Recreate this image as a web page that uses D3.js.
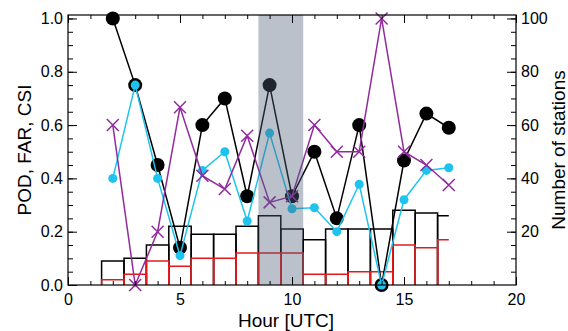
<!DOCTYPE html>
<html>
  <head>
    <meta charset="utf-8">
    <script src="https://d3js.org/d3.v7.min.js"></script>
    <style>
      body { margin: 0px; background: #fff; }
      text { font-family: 'Liberation Sans', Arial, sans-serif; fill: #000; }
      .tick text { font-size: 16px; }
      .tick line { stroke: #000; stroke-width: 1; }
      .domain { display: none; }
      .axis-label { font-size: 19px; }
    </style>
  </head>
  <body>
    <svg width="568" height="331"></svg>
    <script>
      // hours with data
      const hours = [2, 3, 4, 5, 6, 7, 8, 9, 10, 11, 12, 13, 14, 15, 16, 17];
      // line series (left axis)
      const blackSeries  = [1.0, 0.75, 0.45, 0.14, 0.60, 0.70, 0.333, 0.75, 0.333, 0.50, 0.25, 0.60, 0.0, 0.467, 0.643, 0.59];
      const cyanSeries   = [0.40, 0.75, 0.40, 0.11, 0.43, 0.50, 0.24, 0.57, 0.286, 0.29, 0.20, 0.378, 0.0, 0.32, 0.43, 0.44];
      const purpleSeries = [0.60, 0.0, 0.20, 0.667, 0.41, 0.36, 0.56, 0.31, 0.333, 0.60, 0.50, 0.50, 1.0, 0.50, 0.45, 0.375];
      // histograms (right axis, number of stations)
      const stationsAll = [9, 10, 15, 22, 19, 19, 22, 26, 21, 17, 21, 21, 21, 28, 27, 26];
      const stationsRed = [2, 4, 9, 7, 10, 10, 12, 12, 12, 4, 4, 5, 5, 15, 14, 17];
      // shaded period
      const shadeRange = [8.5, 10.5];
      const xTicks = [0, 5, 10, 15, 20];
      const leftTicks = [0, 0.2, 0.4, 0.6, 0.8, 1.0];
      const rightTicks = [20, 40, 60, 80, 100];

      const xLabel = 'Hour [UTC]';
      const yLabel = 'POD, FAR, CSI';
      const y2Label = 'Number of stations';

      const plotL = 68, plotR = 516, plotT = 15, plotB = 285;
      const svg = d3.select('svg');

      const xScale = d3.scaleLinear().domain([0, 20]).range([plotL, plotR]);
      const yScale = d3.scaleLinear().domain([0, 1.013]).range([plotB, plotT]);
      const y2Scale = d3.scaleLinear().domain([0, 101.3]).range([plotB, plotT]);

      // histogram outlines
      const barPath = (v, i, n) => {
        const h = hours[i];
        const x0 = xScale(h - 0.5), yt = y2Scale(v), y0 = y2Scale(0);
        if (i === n - 1) return `M${x0},${y0}V${yt}H${xScale(h)}`;
        return `M${x0},${y0}V${yt}H${xScale(h + 0.5)}V${y0}`;
      };
      const drawBars = (vals, color) => {
        svg.append('g').selectAll('path').data(vals)
          .enter().append('path')
            .attr('d', (d, i) => barPath(d, i, vals.length))
            .attr('fill', 'none')
            .attr('stroke', color)
            .attr('stroke-width', 1.5);
      };
      drawBars(stationsAll, '#000');
      drawBars(stationsRed, '#e31a1c');

      const line = d3.line()
        .x((d, i) => xScale(hours[i]))
        .y(d => yScale(d));

      // black series
      svg.append('path').datum(blackSeries)
        .attr('d', line).attr('fill', 'none')
        .attr('stroke', '#000').attr('stroke-width', 1.5);
      svg.append('g').selectAll('circle').data(blackSeries)
        .enter().append('circle')
          .attr('cx', (d, i) => xScale(hours[i]))
          .attr('cy', d => yScale(d))
          .attr('r', 7)
          .attr('fill', '#000');

      // cyan series
      svg.append('path').datum(cyanSeries)
        .attr('d', line).attr('fill', 'none')
        .attr('stroke', '#1ec4ef').attr('stroke-width', 1.5);
      svg.append('g').selectAll('circle').data(cyanSeries)
        .enter().append('circle')
          .attr('cx', (d, i) => xScale(hours[i]))
          .attr('cy', d => yScale(d))
          .attr('r', 4.5)
          .attr('fill', '#1ec4ef');

      // purple series with X markers
      svg.append('path').datum(purpleSeries)
        .attr('d', line).attr('fill', 'none')
        .attr('stroke', '#922b9e').attr('stroke-width', 1.5);
      const s = 6;
      svg.append('g').selectAll('path').data(purpleSeries)
        .enter().append('path')
          .attr('d', (d, i) => {
            const cx = xScale(hours[i]), cy = yScale(d);
            return `M${cx - s},${cy - s}L${cx + s},${cy + s}M${cx - s},${cy + s}L${cx + s},${cy - s}`;
          })
          .attr('stroke', '#922b9e').attr('stroke-width', 1.5).attr('fill', 'none');

      // shaded band on top
      svg.append('rect')
        .attr('x', xScale(shadeRange[0]))
        .attr('y', plotT)
        .attr('width', xScale(shadeRange[1]) - xScale(shadeRange[0]))
        .attr('height', plotB - plotT)
        .attr('fill', 'rgb(77,95,121)')
        .attr('fill-opacity', 0.39);

      // frame
      svg.append('rect')
        .attr('x', plotL).attr('y', plotT)
        .attr('width', plotR - plotL).attr('height', plotB - plotT)
        .attr('fill', 'none').attr('stroke', '#000').attr('stroke-width', 1.2);

      // axes, ticks point inward
      const minorX = d3.range(0, 21, 1);
      svg.append('g').attr('transform', `translate(0,${plotB})`)
        .call(d3.axisBottom(xScale).tickValues(xTicks).tickSize(-8).tickPadding(9).tickFormat(d3.format('d')));
      svg.append('g').attr('transform', `translate(0,${plotB})`)
        .call(d3.axisBottom(xScale).tickValues(minorX).tickSize(-4).tickFormat(''));
      svg.append('g').attr('transform', `translate(0,${plotT})`)
        .call(d3.axisTop(xScale).tickValues(xTicks).tickSize(-8).tickFormat(''));
      svg.append('g').attr('transform', `translate(0,${plotT})`)
        .call(d3.axisTop(xScale).tickValues(minorX).tickSize(-4).tickFormat(''));

      svg.append('g').attr('transform', `translate(${plotL},0)`)
        .call(d3.axisLeft(yScale).tickValues(leftTicks).tickSize(-9).tickPadding(5).tickFormat(d3.format('.1f')));
      svg.append('g').attr('transform', `translate(${plotL},0)`)
        .call(d3.axisLeft(yScale).tickValues(d3.range(0, 1.01, 0.05)).tickSize(-5).tickFormat(''));

      svg.append('g').attr('transform', `translate(${plotR},0)`)
        .call(d3.axisRight(y2Scale).tickValues(rightTicks).tickSize(-9).tickPadding(5).tickFormat(d3.format('d')));
      svg.append('g').attr('transform', `translate(${plotR},0)`)
        .call(d3.axisRight(y2Scale).tickValues(d3.range(5, 101, 5)).tickSize(-5).tickFormat(''));

      // axis titles
      svg.append('text').attr('class', 'axis-label')
        .attr('x', 286).attr('y', 327)
        .attr('text-anchor', 'middle').text(xLabel);
      svg.append('text').attr('class', 'axis-label')
        .attr('transform', `translate(31,${(plotT + plotB) / 2}) rotate(-90)`)
        .attr('text-anchor', 'middle').text(yLabel);
      svg.append('text').attr('class', 'axis-label')
        .attr('transform', `translate(565,${(plotT + plotB) / 2}) rotate(-90)`)
        .attr('text-anchor', 'middle').text(y2Label);
    </script>
  </body>
</html>
